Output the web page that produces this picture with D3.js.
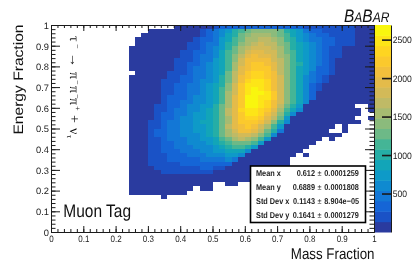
<!DOCTYPE html>
<html>
<head>
<meta charset="utf-8">
<script src="https://cdn.jsdelivr.net/npm/d3@7"></script>
<style>
  html, body { margin: 0; padding: 0; background: #fff; }
  svg { display: block; font-family: "Liberation Sans", sans-serif; text-rendering: geometricPrecision; filter: blur(0.35px); }
  .axis path, .axis line { stroke: #1a1a1a; }
  .axis text { fill: #222; font-family: "Liberation Sans", sans-serif; font-size: 9.3px; }
</style>
</head>
<body>
<div id="d3"></div>
<script>
// tick labels
const xTicks = [0, 0.1, 0.2, 0.3, 0.4, 0.5, 0.6, 0.7, 0.8, 0.9, 1];
const yTicks = [0, 0.1, 0.2, 0.3, 0.4, 0.5, 0.6, 0.7, 0.8, 0.9, 1];
const zTicks = [500, 1000, 1500, 2000, 2500];

// stat box
const statLabels = ['Mean x', 'Mean y', 'Std Dev x', 'Std Dev y'];
const statValues = ['0.612', '0.6889', '0.1143', '0.1641'];
const statErrors = ['0.0001259', '0.0001808', '8.904e\u221205', '0.0001279'];

// 20 contour colours, bottom to top of the colour bar
const palette = ['#2a3b9f', '#1a52c6', '#1565d6', '#1377d6', '#0f8ad0', '#0e9ac8', '#12a5b8', '#25aea6', '#44b596', '#6db987',
    '#8bbb7c', '#a6bb71', '#bfba66', '#d3ba58', '#e4bb4a', '#f2bf3c', '#fbc92d', '#fed521', '#fde517', '#f9f60e'];

// histogram bins, width 0.02 from x = 0.24 on. rows run from y = 1 downward, 0 = empty bin
const firstBinX = 0.24, binSize = 0.02;
const heatRows = [
[0,0,0,0,0,0,0,70,70,70,70,70,70,200,340,340,340,340,340,340,340,340,340,340,340,340,340,200,200,200,200,200,200,200,200,70,70,70],
[0,0,0,70,70,70,70,70,70,70,70,200,340,470,610,740,1010,1150,1280,1410,1410,1410,1410,1280,1010,880,740,470,340,340,200,200,200,200,200,70,70,70],
[0,0,70,70,70,70,70,70,70,70,70,200,340,470,610,880,1010,1280,1410,1550,1550,1550,1410,1280,1150,880,740,610,470,340,340,200,200,200,200,70,70,70],
[0,70,70,70,70,70,70,70,70,70,200,340,340,470,740,880,1150,1280,1550,1550,1680,1680,1550,1410,1150,1010,740,610,470,470,340,340,200,200,200,70,70,70],
[0,70,70,70,70,70,70,70,70,200,200,340,470,470,740,1010,1150,1410,1550,1680,1820,1680,1680,1410,1280,1010,880,740,610,470,340,340,200,200,200,70,70,70],
[70,70,70,70,70,70,70,70,70,200,200,340,470,610,740,1010,1280,1550,1680,1820,1820,1820,1680,1550,1280,1010,880,740,610,470,340,200,200,70,70,70,70,70],
[70,70,70,70,70,70,70,70,200,200,340,340,470,610,880,1150,1280,1550,1820,1950,1950,1820,1820,1550,1280,1150,880,740,610,470,340,200,200,70,70,70,70,70],
[70,70,70,70,70,70,70,70,200,200,340,470,470,610,880,1150,1410,1680,1950,2090,1950,1950,1820,1550,1410,1150,880,740,610,470,340,200,200,70,70,70,70,70],
[70,70,70,70,70,70,70,200,200,200,340,470,470,740,880,1150,1410,1820,2090,2090,2090,2090,1820,1680,1410,1150,880,740,610,470,340,200,70,70,70,70,70,70],
[70,70,70,70,70,70,70,200,200,340,340,470,610,740,880,1150,1550,1820,2090,2220,2220,2090,1950,1680,1410,1150,1010,740,610,470,340,200,70,70,70,70,70,70],
[70,70,70,70,70,70,70,200,200,340,470,470,610,740,880,1150,1550,1950,2090,2220,2220,2220,1950,1680,1410,1150,880,740,610,340,340,200,70,70,70,70,70,70],
[0,70,70,70,70,70,200,200,200,340,470,470,610,740,880,1280,1680,1950,2220,2360,2360,2220,2090,1680,1410,1150,880,740,470,340,340,200,70,70,70,70,70,70],
[70,70,70,70,70,70,200,200,340,340,470,470,610,740,1010,1280,1680,2090,2220,2360,2360,2220,2090,1820,1410,1150,880,610,470,340,200,70,70,70,70,70,70,70],
[70,70,70,70,70,200,200,200,340,340,470,610,610,740,1010,1280,1680,2090,2360,2490,2490,2360,2090,1820,1410,1150,880,610,470,340,200,70,70,70,70,70,70,70],
[70,70,70,70,70,200,200,340,340,470,470,610,740,880,1010,1410,1820,2220,2490,2490,2490,2360,2090,1820,1410,1150,880,610,340,200,70,70,70,70,70,70,70,70],
[70,70,70,70,70,200,200,340,340,470,470,610,740,880,1150,1410,1820,2220,2490,2630,2490,2360,2090,1820,1410,1150,880,610,340,200,70,70,70,70,70,70,70,70],
[70,70,70,70,70,200,200,340,340,470,470,610,740,880,1150,1550,1820,2220,2490,2630,2630,2490,2220,1820,1410,1150,880,610,340,70,70,70,70,70,70,70,70,70],
[70,70,70,70,70,200,340,340,340,470,610,610,740,880,1150,1550,1950,2220,2630,2630,2490,2490,2220,1820,1410,1150,880,610,340,70,70,70,70,70,70,70,70,70],
[70,70,70,70,70,200,340,340,470,470,610,610,740,880,1150,1550,1950,2220,2630,2630,2490,2360,2090,1820,1410,1150,880,610,70,70,70,70,70,70,70,70,70,70],
[70,70,70,70,200,200,340,340,470,610,610,740,740,1010,1280,1550,1950,2220,2630,2630,2490,2360,2090,1680,1280,1010,740,70,70,70,70,70,70,70,70,0,0,70],
[70,70,70,70,200,200,340,470,470,610,610,740,880,1010,1280,1680,1950,2360,2490,2490,2360,2220,1950,1550,1150,880,610,70,70,70,70,70,70,70,70,70,0,70],
[70,70,70,70,200,340,340,470,470,610,740,740,880,1010,1280,1680,1950,2220,2490,2490,2360,2090,1820,1410,1010,610,70,70,70,70,70,70,70,70,70,70,0,0],
[70,70,70,70,200,340,340,470,610,610,740,740,880,1010,1280,1550,1950,2220,2360,2360,2220,1950,1680,1280,740,70,70,70,70,70,70,70,70,70,70,0,0,70],
[70,70,70,200,200,340,470,470,610,610,740,880,880,1010,1280,1550,1950,2220,2220,2220,2090,1820,1410,1010,610,70,70,70,70,70,70,70,70,70,70,70,0,0],
[70,70,70,200,200,340,470,470,610,610,740,740,880,1010,1280,1680,1950,2090,2220,2090,1820,1550,1150,740,70,70,70,70,70,70,70,70,0,70,0,0,0,0],
[70,70,70,200,340,340,470,470,610,610,740,740,880,1010,1280,1550,1820,2090,2090,1950,1680,1280,1010,470,70,70,70,70,70,70,70,0,0,70,0,0,0,0],
[70,70,70,200,340,340,470,470,610,610,610,740,880,1010,1280,1550,1680,1820,1820,1680,1410,1150,610,70,70,70,70,70,70,70,70,70,70,0,0,0,0,0],
[70,70,70,200,200,340,470,470,470,610,610,740,740,880,1150,1280,1550,1680,1550,1410,1150,740,70,70,70,70,70,70,70,70,0,70,0,0,0,0,0,0],
[70,70,70,200,200,340,340,470,470,610,610,610,740,880,1010,1150,1280,1280,1280,1150,740,70,70,70,70,70,70,70,70,0,0,0,0,0,0,0,0,0],
[70,70,70,200,200,340,340,470,470,470,610,610,610,740,880,1010,1150,1150,1010,740,70,70,70,70,70,70,70,70,0,0,0,0,0,0,0,0,0,0],
[70,70,70,200,200,340,340,340,470,470,470,610,610,740,740,880,880,880,610,70,70,70,70,70,70,70,70,0,0,0,0,0,0,0,0,0,0,0],
[70,70,70,200,200,200,340,340,340,470,470,470,610,610,610,740,740,610,70,70,70,70,70,70,70,70,0,70,0,0,0,0,0,0,0,0,0,0],
[70,70,70,200,200,200,340,340,340,340,340,470,470,470,470,610,470,70,70,70,70,70,70,70,70,0,0,0,0,0,0,0,0,0,0,0,0,0],
[70,70,70,200,200,200,200,200,340,340,340,340,340,340,340,340,70,70,70,70,70,70,70,70,70,0,0,0,0,0,0,0,0,0,0,0,0,0],
[70,70,70,70,200,200,200,200,200,200,200,340,340,200,200,70,70,70,70,70,70,70,70,70,70,0,0,0,0,0,0,0,0,0,0,0,0,0],
[70,70,70,70,70,200,200,200,200,200,200,200,200,70,70,70,70,70,70,70,70,70,70,70,70,0,0,0,0,0,0,0,0,0,0,0,0,0],
[70,70,70,70,70,70,70,70,70,70,70,70,70,70,70,70,70,70,70,70,70,70,70,70,70,0,0,0,0,0,0,0,0,0,0,0,0,0],
[70,70,70,70,70,70,70,70,70,70,70,70,70,70,70,70,70,70,70,70,70,70,70,70,70,0,0,0,0,0,0,0,0,0,0,0,0,0],
[70,70,70,70,70,70,70,70,70,70,70,70,70,0,0,70,70,0,0,0,0,0,0,0,0,0,0,0,0,0,0,0,0,0,0,0,0,0],
[70,70,70,70,70,70,70,70,70,70,0,70,70,0,0,0,0,0,0,0,0,0,0,0,0,0,0,0,0,0,0,0,0,0,0,0,0,0],
[70,70,70,70,70,70,70,70,70,0,0,0,0,0,0,0,0,0,0,0,0,0,0,0,0,0,0,0,0,0,0,0,0,0,0,0,0,0],
[0,0,0,0,0,70,0,0,0,0,0,0,0,0,0,0,0,0,0,0,0,0,0,0,0,0,0,0,0,0,0,0,0,0,0,0,0,0]
];

const width = 415, height = 277;
const margin = { left: 51, right: 374, top: 25, bottom: 232 };
const squeeze = 'scale(0.86,1)'; // the picture is narrower than it is tall

let svg = d3.select('#d3').append('svg').attr('width', width).attr('height', height);

let xscale = d3.scaleLinear().domain([0, 1]).range([margin.left, margin.right]);
let yscale = d3.scaleLinear().domain([0, 1]).range([margin.bottom, margin.top]);
let zscale = d3.scaleLinear().domain([0, 2690]).range([margin.bottom, margin.top]);
let color = d3.scaleQuantize().domain([0, 2690]).range(palette);

// CELLS
let cells = [];
heatRows.forEach((row, r) => row.forEach((v, i) => {
    if (v > 0) cells.push({ x: firstBinX + i * binSize, y: 1 - r * binSize, v: v });
}));
svg.append('g').attr('class', 'cells').selectAll('rect')
    .data(cells).enter().append('rect')
    .attr('x', d => xscale(d.x))
    .attr('y', d => yscale(d.y))
    .attr('width', d => xscale(d.x + binSize) - xscale(d.x))
    .attr('height', d => yscale(d.y - binSize) - yscale(d.y))
    .attr('fill', d => color(d.v))
    .attr('shape-rendering', 'crispEdges');

// COLOUR BAR
svg.append('g').selectAll('rect')
    .data(palette).enter().append('rect')
    .attr('x', margin.right).attr('width', 17)
    .attr('y', (d, i) => zscale((i + 1) * 2690 / palette.length))
    .attr('height', (margin.bottom - margin.top) / palette.length + 0.5)
    .attr('fill', d => d);

// AXES
function drawAxis(axisFn, scale, at, major, minor, values, minorValues, fmt) {
    if (minorValues) {
        svg.append('g').attr('class', 'axis').attr('transform', at)
            .call(axisFn(scale).tickValues(minorValues).tickSize(minor).tickSizeOuter(0).tickFormat(''));
    }
    return svg.append('g').attr('class', 'axis').attr('transform', at)
        .call(axisFn(scale).tickValues(values).tickSize(major).tickSizeOuter(0).tickFormat(fmt));
}
const fmt = d => d3.format('~g')(d);
const noLabel = () => '';
let xBottom = drawAxis(d3.axisBottom, xscale, `translate(0,${margin.bottom})`, -6, -3, xTicks, xscale.ticks(50), fmt);
xBottom.selectAll('text').attr('dy', '0').attr('y', 10).attr('transform', squeeze);

let yLeft = drawAxis(d3.axisLeft, yscale, `translate(${margin.left},0)`, -9, -4.5, yTicks, yscale.ticks(50), fmt);
yLeft.selectAll('text').attr('x', -2).attr('dy', '0.36em');

drawAxis(d3.axisTop, xscale, `translate(0,${margin.top})`, -6, -3, xTicks, xscale.ticks(50), noLabel);
drawAxis(d3.axisRight, yscale, `translate(${margin.right},0)`, -9, -4.5, yTicks, yscale.ticks(50), noLabel);

let zAxis = drawAxis(d3.axisRight, zscale, `translate(391,0)`, -9, 0, zTicks, null, fmt);
zAxis.selectAll('line').attr('stroke-width', 1.6);
zAxis.selectAll('text').attr('x', 2).attr('transform', 'scale(0.92,1)');

// TITLES
svg.append('text').attr('transform', `translate(374.5,259) ${squeeze}`).attr('text-anchor', 'end')
    .attr('font-size', 15.5).attr('fill', '#111').text('Mass Fraction');
svg.append('text').attr('transform', 'translate(23,24.5) rotate(-90) scale(1,0.88)').attr('text-anchor', 'end')
    .attr('font-size', 15.6).attr('fill', '#111').text('Energy Fraction');
svg.append('text').attr('transform', `translate(63.3,217) ${squeeze}`)
    .attr('font-size', 18).attr('fill', '#111').text('Muon Tag');

// BaBar mark
const babar = svg.append('text').attr('transform', `translate(344,22) ${squeeze}`)
    .attr('font-style', 'italic').attr('fill', '#111');
[['B', 18], ['A', 14], ['B', 18], ['A', 14], ['R', 14]].forEach(p => {
    babar.append('tspan').attr('font-size', p[1]).text(p[0]);
});

// decay label, reads downward
const decay = svg.append('text').attr('transform', 'translate(69.5,36) rotate(90)')
    .attr('font-family', '"Liberation Serif", serif').attr('fill', '#111');
[['\u03C4', 0, 0, 14], ['\u2212', 8, -5, 8], ['\u2192', 17, 0, 14], ['\u03C0', 36, 0, 14], ['\u2212', 44, -5, 8], ['\u03C0', 50, 0, 14], ['\u2212', 58, -5, 8], ['\u03C0', 62, 0, 14], ['+', 70, -5, 8], ['+', 79, 0, 14], ['\u03BD', 92, 0, 14], ['\u03C4', 99, 3, 8]].forEach(p => {
    decay.append('tspan').attr('x', p[1]).attr('y', p[2]).attr('font-size', p[3]).text(p[0]);
});

// STAT BOX
svg.append('rect').attr('x', 250.5).attr('y', 166).attr('width', 115).attr('height', 56.5)
    .attr('fill', '#fff').attr('stroke', '#000').attr('stroke-width', 1.6);
const statY = [176.3, 190.3, 203.7, 217.7];
const stats = svg.append('g').attr('font-size', 8.5).attr('font-weight', 'bold').attr('fill', '#222');
statLabels.forEach((s, i) => {
    stats.append('text').attr('transform', `translate(256,${statY[i]}) ${squeeze}`).text(s);
    stats.append('text').attr('transform', `translate(315,${statY[i]}) ${squeeze}`).attr('text-anchor', 'end').text(statValues[i]);
    stats.append('text').attr('transform', `translate(317.5,${statY[i]}) ${squeeze}`).attr('font-weight', 'normal').text('\u00B1');
    stats.append('text').attr('transform', `translate(324.3,${statY[i]}) ${squeeze}`).text(statErrors[i]);
});
</script>
</body>
</html>
